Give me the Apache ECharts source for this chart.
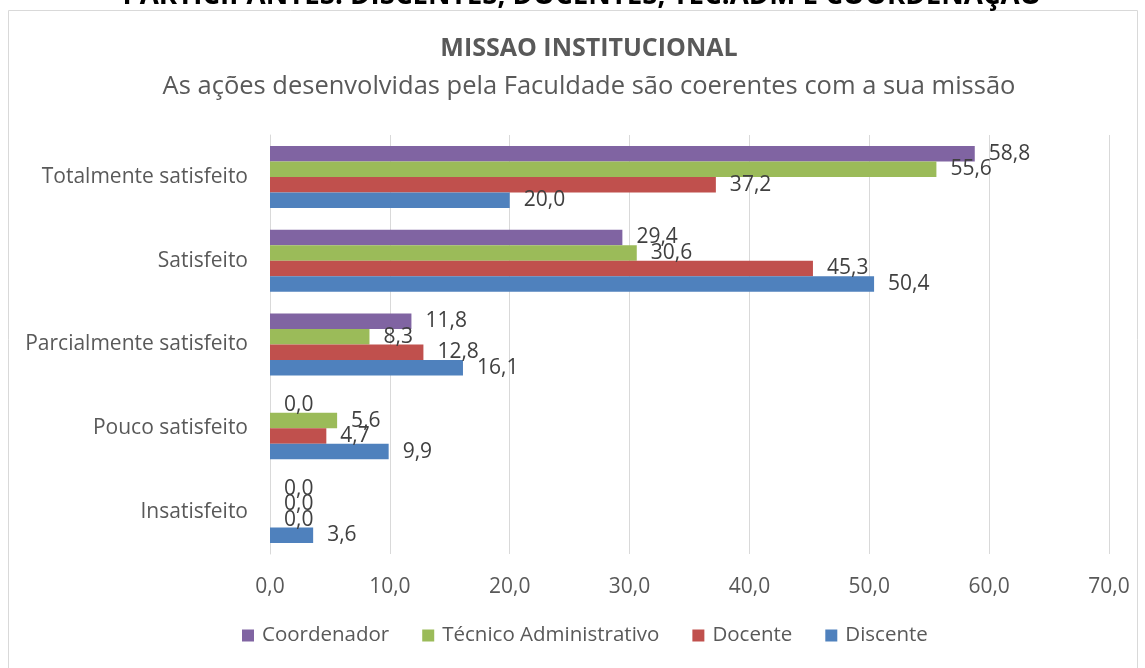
<!DOCTYPE html>
<html><head><meta charset="utf-8">
<script src="https://cdn.jsdelivr.net/npm/echarts@6/dist/echarts.min.js"></script>
<style>html,body{margin:0;padding:0;background:#fff}#c{width:1145px;height:668px}</style>
</head><body><div id="c"></div>
<script>
const categories = ['Insatisfeito', 'Pouco satisfeito', 'Parcialmente satisfeito', 'Satisfeito', 'Totalmente satisfeito'];
const discente = [3.6, 9.9, 16.1, 50.4, 20.0];
const docente = [0.0, 4.7, 12.8, 45.3, 37.2];
const tecnico = [0.0, 5.6, 8.3, 30.6, 55.6];
const coordenador = [0.0, 0.0, 11.8, 29.4, 58.8];
const seriesNames = ['Coordenador', 'Técnico Administrativo', 'Docente', 'Discente'];
const legendOrder = ['Coordenador', 'Técnico Administrativo', 'Docente', 'Discente'];
const colors = ['#8064A2', '#9BBB59', '#C0504D', '#4F81BD'];
const FONT = '"Open Sans", sans-serif';
const fmt = v => Number(v).toFixed(1).replace('.', ',');

const chart = echarts.init(document.getElementById('c'), null, {renderer: 'canvas'});
const data = [coordenador, tecnico, docente, discente];
chart.setOption({
  animation: false,
  color: colors,
  graphic: [
    {type: 'rect', shape: {x: 8.5, y: 10.5, width: 1129, height: 670}, style: {fill: 'none', stroke: '#d9d9d9', lineWidth: 1}, z: -1},
    {type: 'text', x: 582, y: -18, style: {text: 'PARTICIPANTES: DISCENTES, DOCENTES, TEC.ADM E COORDENAÇÃO', font: 'bold 27.7px ' + FONT, fill: '#000', align: 'center', verticalAlign: 'top'}}
  ],
  title: {
    text: 'MISSAO INSTITUCIONAL',
    subtext: 'As ações desenvolvidas pela Faculdade são coerentes com a sua missão',
    left: 584, textAlign: 'center', top: 31, itemGap: 13,
    textStyle: {fontFamily: FONT, fontSize: 25, fontWeight: 'bold', color: '#595959'},
    subtextStyle: {fontFamily: FONT, fontSize: 25.5, color: '#595959'}
  },
  legend: {
    data: legendOrder, bottom: 17, left: 237,
    icon: 'rect', itemWidth: 12, itemHeight: 12, itemGap: 33,
    textStyle: {fontFamily: FONT, fontSize: 20.5, color: '#595959', padding: [0, 0, 0, 3]}
  },
  grid: {left: 270, right: 36, top: 135, bottom: 114, containLabel: false},
  xAxis: {
    type: 'value', min: 0, max: 70, interval: 10,
    axisLine: {show: false}, axisTick: {show: false},
    splitLine: {lineStyle: {color: '#d9d9d9', width: 1}},
    axisLabel: {formatter: fmt, fontFamily: FONT, fontSize: 21, color: '#595959', margin: 23}
  },
  yAxis: {
    type: 'category', data: categories,
    axisLine: {lineStyle: {color: '#d9d9d9'}}, axisTick: {show: false},
    axisLabel: {fontFamily: FONT, fontSize: 21, color: '#595959', margin: 22}
  },
  series: seriesNames.map((n, i) => ({
    name: n, type: 'bar', data: data[i],
    barGap: '0%', barCategoryGap: '26%',
    label: {show: true, position: 'right', distance: 14, formatter: p => fmt(p.value), fontFamily: FONT, fontSize: 21, color: '#404040'}
  }))
});
</script></body></html>
